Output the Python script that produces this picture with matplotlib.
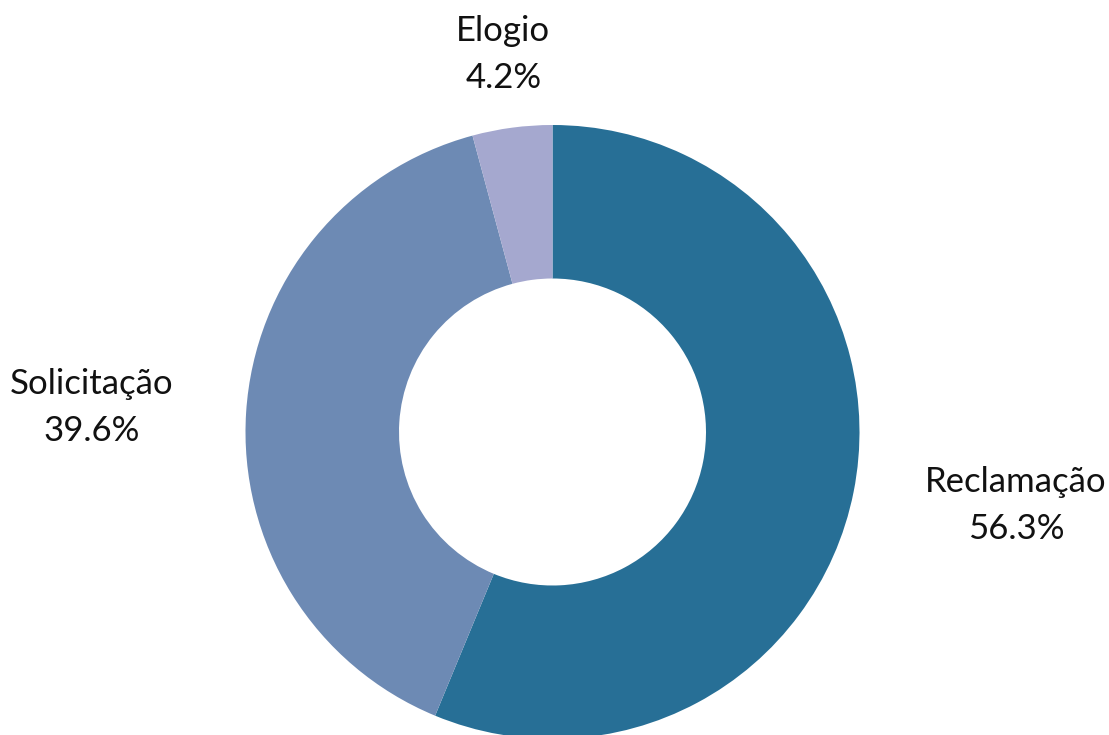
import matplotlib
matplotlib.use("Agg")
import matplotlib.pyplot as plt

# dados
categorias = ["Reclamação", "Solicitação", "Elogio"]
valores = [56.3, 39.6, 4.2]
cores = ["#276f96", "#6d8ab4", "#a5a8cf"]

# posição dos rótulos (unidades do raio)
pos_rotulos = [(1.51, -0.24), (-1.50, 0.08), (-0.16, 1.23)]

plt.rcParams['font.family'] = ['Lato', 'DejaVu Sans']

fig = plt.figure(figsize=(11.09, 7.35), dpi=100)
ax = fig.add_axes([0, 0, 1, 1])

ax.pie(valores, colors=cores, startangle=90, counterclock=False,
       radius=1.0, wedgeprops=dict(width=0.5, linewidth=0))

for nome, v, (x, y) in zip(categorias, valores, pos_rotulos):
    ax.text(x, y, f"{nome}\n{v:.1f}%", ha='center', va='center',
            fontsize=25, fontweight='normal', color='#111111', linespacing=1.6)

ax.set_xlim(-552.5 / 307, (1109 - 552.5) / 307)
ax.set_ylim(-303 / 307, 432 / 307)
ax.set_aspect('equal')
ax.axis('off')

fig.savefig("out.png", dpi=100)
